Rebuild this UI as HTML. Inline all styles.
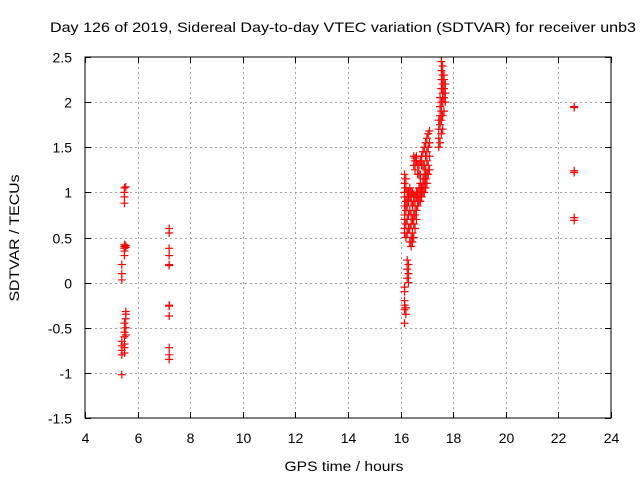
<!DOCTYPE html>
<html><head><meta charset="utf-8"><style>
html,body{margin:0;padding:0;background:#fff}
svg{display:block;font-family:"Liberation Sans",sans-serif}
</style></head><body>
<svg id="chart" width="640" height="480" viewBox="0 0 640 480">
<rect width="640" height="480" fill="#fff"/>
<text x="343" y="32" font-size="14" text-anchor="middle" textLength="586" lengthAdjust="spacingAndGlyphs">Day 126 of 2019, Sidereal Day-to-day VTEC variation (SDTVAR) for receiver unb3</text>
<text x="344" y="471" font-size="14" text-anchor="middle" textLength="119" lengthAdjust="spacingAndGlyphs">GPS time / hours</text>
<text x="0" y="0" font-size="14" text-anchor="middle" textLength="127" lengthAdjust="spacingAndGlyphs" transform="translate(19,238) rotate(-90)">SDTVAR / TECUs</text>
<g id="grid"></g>
<g id="ticks"></g>
<g id="marks"></g>
<rect x="85" y="57" width="526" height="361" fill="none" stroke="#000" stroke-width="1"/>
</svg>
<script>
const xTicks=[4,6,8,10,12,14,16,18,20,22,24];
const yTicks=[-1.5,-1,-0.5,0,0.5,1,1.5,2,2.5];
const yTickLabels=["-1.5","-1","-0.5","0","0.5","1","1.5","2","2.5"];
const groupTimes=[5.4,5.5,5.55,7.2,16.15,16.2,16.25,16.3,16.35,16.4,16.45,16.5,16.55,16.6,16.65,16.7,16.75,16.8,16.85,16.9,16.95,17.0,17.05,17.1,17.45,17.5,17.55,17.6,17.65,17.7,22.6];
const groupValues=[
[0.2,0.1,0.03,-0.65,-0.7,-0.75,-0.8,-1.02],
[1.05,1.0,0.95,0.88,0.42,0.4,0.38,0.35,0.3,-0.45,-0.55,-0.6,-0.68,-0.72,-0.78],
[1.06,0.41,0.39,-0.32,-0.35,-0.4,-0.5,-0.58],
[0.6,0.55,0.38,0.3,0.2,0.19,-0.25,-0.26,-0.37,-0.72,-0.8,-0.85],
[-0.45,-0.3,-0.25,-0.2,-0.1,-0.05,0.55,0.6,0.7,0.75,0.85,0.95,1.0,1.1,1.2],
[-0.35,-0.28,0.5,0.65,0.8,0.9,1.05,1.15],
[0.05,0.15,0.25,0.55,0.7,0.85,0.95,1.0],
[0.0,0.1,0.2,0.6,0.75,0.9,1.0,0.95],
[0.45,0.6,0.8,0.95,1.05],
[0.4,0.5,0.65,0.75,0.9,1.0,0.95],
[0.45,0.55,0.7,0.85,1.0],
[0.5,0.65,0.75,0.9,0.98,1.3,1.4],
[0.6,0.75,0.85,0.95,1.35,1.38,1.25],
[0.7,0.8,0.95,1.0,1.4,1.35],
[0.85,0.9,1.0,1.3,1.2],
[0.9,0.95,1.0,1.05,1.2,1.3],
[0.9,1.0,1.1,1.35,1.2],
[0.95,1.0,1.05,1.4,1.3],
[1.0,1.05,1.1,1.15,1.3,1.45],
[1.0,1.1,1.2,1.3,1.5],
[1.05,1.15,1.25,1.4,1.55],
[1.1,1.2,1.35,1.45,1.6],
[1.2,1.3,1.5,1.65],
[1.25,1.4,1.55,1.68],
[1.5,1.6,1.7,1.8],
[1.55,1.75,1.85,1.95,2.05],
[1.65,1.8,1.9,2.0,2.15,2.25,2.35,2.45],
[1.7,1.85,2.0,2.1,2.2,2.3,2.4],
[1.9,2.05,2.15,2.25,2.3],
[2.0,2.1,2.2],
[1.95,1.94,1.24,1.22,0.72,0.69]
];
const L=85,R=611,T=57,B=418;
function xs(v){return L+(v-4)/20*(R-L);}
function ys(v){return B-(v+1.5)/4*(B-T);}
const NS="http://www.w3.org/2000/svg";
const grid=document.getElementById('grid'),ticks=document.getElementById('ticks'),marks=document.getElementById('marks');
function ln(g,x1,y1,x2,y2,st,dash){const l=document.createElementNS(NS,'line');l.setAttribute('x1',x1);l.setAttribute('y1',y1);l.setAttribute('x2',x2);l.setAttribute('y2',y2);l.setAttribute('stroke',st);if(dash)l.setAttribute('stroke-dasharray',dash);g.appendChild(l);return l;}
xTicks.forEach((t)=>{const x=Math.round(xs(t))+0.5;
if(t>4&&t<24){const g=ln(grid,x,T,x,B,'#a0a0a0','2,3');

}
ln(ticks,x,B,x,B-6,'#000');ln(ticks,x,T,x,T+6,'#000');
const tx=document.createElementNS(NS,'text');tx.setAttribute('x',x);tx.setAttribute('y',443);tx.setAttribute('font-size','14');tx.setAttribute('text-anchor','middle');tx.textContent=t;


ticks.appendChild(tx);});
yTicks.forEach((t,i)=>{const y=Math.round(ys(t))+0.5;
if(t>-1.5&&t<2.5){const g=ln(grid,L,y,R,y,'#a0a0a0','2,3');

}
ln(ticks,L,y,L+6,y,'#000');ln(ticks,R,y,R-6,y,'#000');
const tx=document.createElementNS(NS,'text');tx.setAttribute('x',72);tx.setAttribute('y',y+5);tx.setAttribute('font-size','14');tx.setAttribute('text-anchor','end');tx.textContent=yTickLabels[i];


ticks.appendChild(tx);});
groupTimes.forEach((t,gi)=>{groupValues[gi].forEach(v=>{const x=xs(t),y=ys(v);
const p=document.createElementNS(NS,'path');p.setAttribute('d',`M${x-4},${y}H${x+4}M${x},${y-4}V${y+4}`);p.setAttribute('stroke','#f00');p.setAttribute('stroke-width','1.2');p.setAttribute('fill','none');


marks.appendChild(p);});});
</script>
</body></html>
